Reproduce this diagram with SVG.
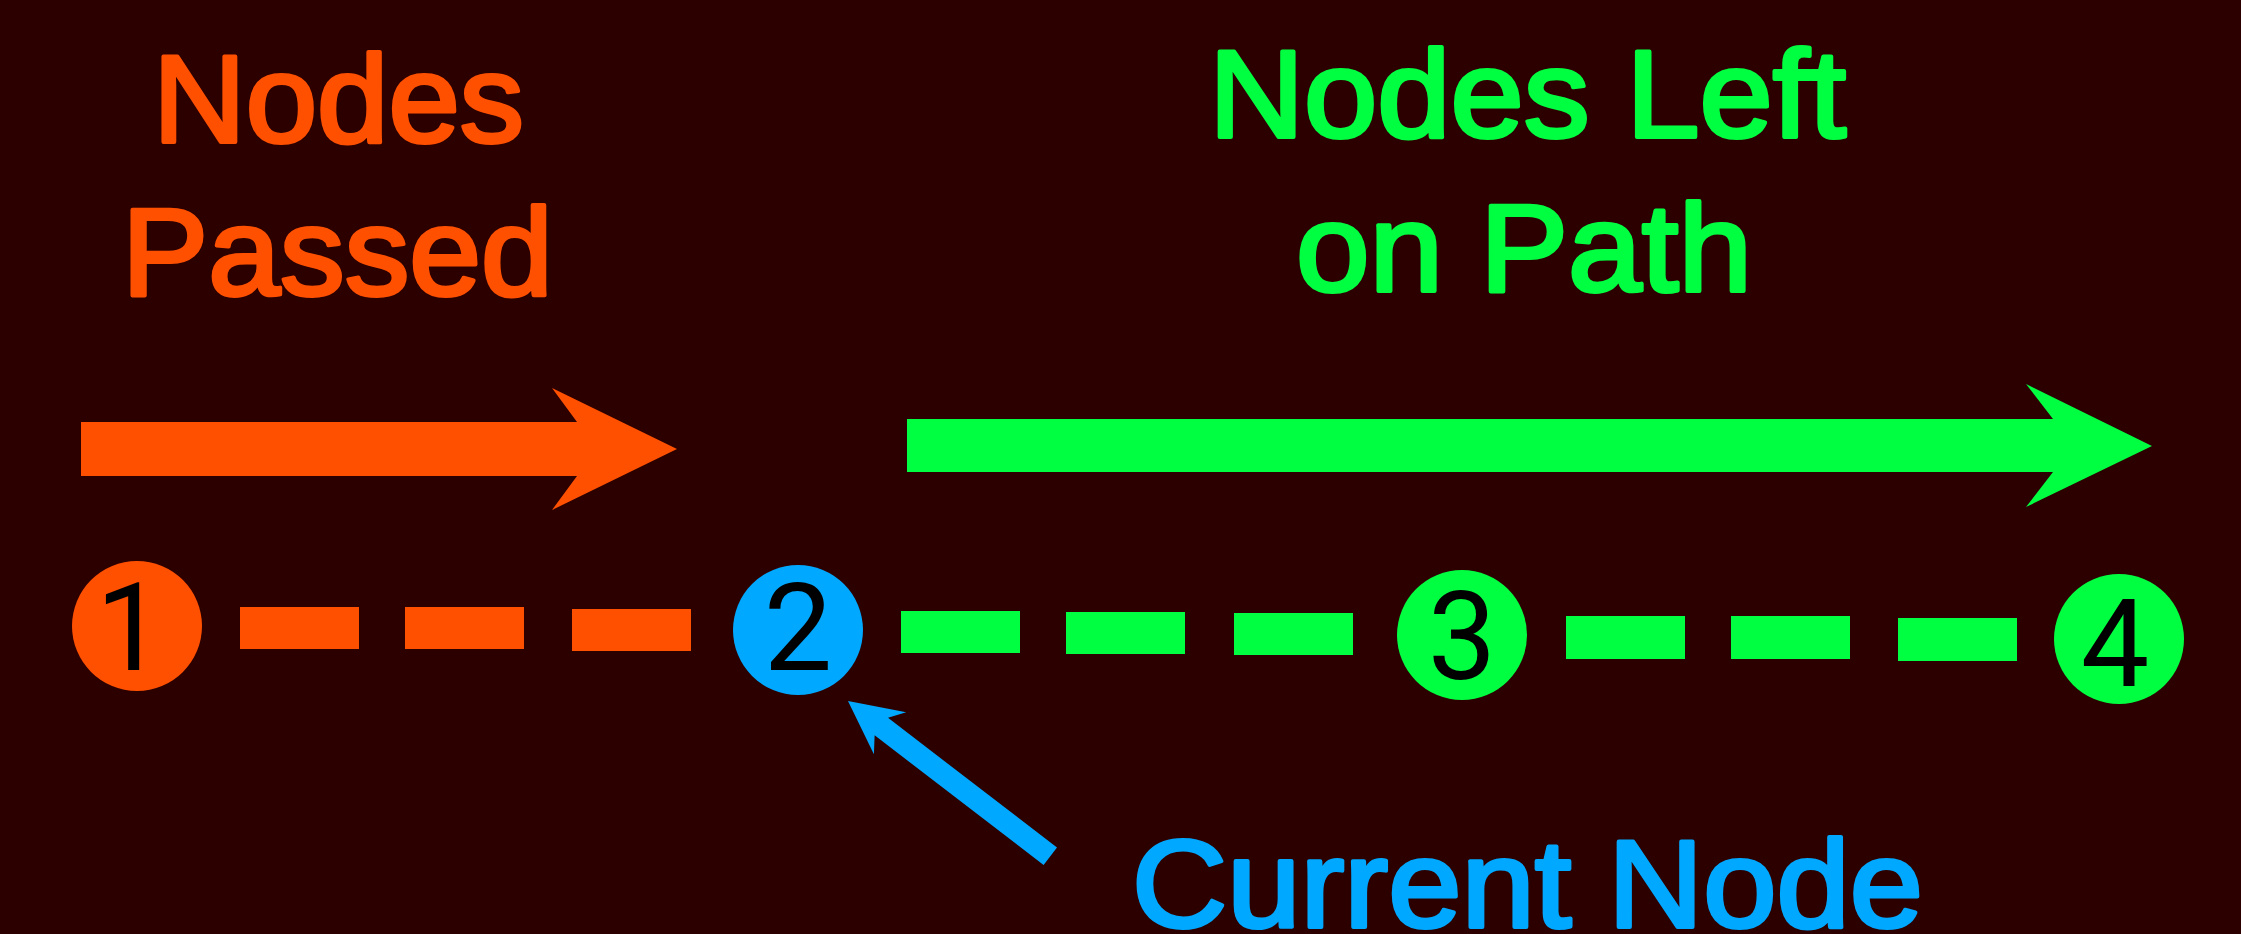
<svg xmlns="http://www.w3.org/2000/svg" width="2241" height="934" viewBox="0 0 2241 934">
<style>
.lbl{font-family:"Liberation Sans",Arial,sans-serif;font-size:124px;stroke-width:4;stroke-linejoin:round}
.or{fill:#ff5000}.gr{fill:#00ff40}.bl{fill:#00a8ff}
text.or{stroke:#ff5000}text.gr{stroke:#00ff40}text.bl{stroke:#00a8ff}
.dig{font-family:Roboto,"Liberation Sans",sans-serif;font-size:122px;fill:#000;text-anchor:middle}
</style>
<rect width="2241" height="934" fill="#2d0000"/>
<g id="label-passed">
<text class="lbl or" x="153" y="142" textLength="371" lengthAdjust="spacingAndGlyphs">Nodes</text>
<text class="lbl or" x="122" y="295" textLength="431" lengthAdjust="spacingAndGlyphs">Passed</text>
</g>
<g id="label-left">
<text class="lbl gr" x="1209" y="137" textLength="637" lengthAdjust="spacingAndGlyphs">Nodes Left</text>
<text class="lbl gr" x="1296" y="291" textLength="456" lengthAdjust="spacingAndGlyphs">on Path</text>
</g>
<g id="label-current">
<text class="lbl bl" x="1132" y="927" textLength="791" lengthAdjust="spacingAndGlyphs">Current Node</text>
</g>
<g id="connectors">
<polygon class="or" points="81,422 577,422 552,388 677,449 552,510 577,476 81,476"/>
<polygon class="gr" points="907,419 2053,419 2026,384 2152,446 2026,507 2053,472 907,472"/>
<rect class="or" x="240" y="607" width="119" height="42"/>
<rect class="or" x="405" y="607" width="119" height="42"/>
<rect class="or" x="572" y="609" width="119" height="42"/>
<rect class="gr" x="901" y="611" width="119" height="42"/>
<rect class="gr" x="1066" y="612" width="119" height="42"/>
<rect class="gr" x="1234" y="613" width="119" height="42"/>
<rect class="gr" x="1566" y="616" width="119" height="43"/>
<rect class="gr" x="1731" y="616" width="119" height="43"/>
<rect class="gr" x="1898" y="618" width="119" height="43"/>
<polygon class="bl" transform="translate(848,701) rotate(37.5)" points="0,0 53,-26.5 42,-11 255,-11 255,11 42,11 53,26.5"/>
</g>
<g id="node1">
<circle class="or" cx="137" cy="626" r="65"/>
<text class="dig" x="130" y="670">1</text>
</g>
<g id="node2">
<circle class="bl" cx="798" cy="630" r="65"/>
<text class="dig" x="798" y="670">2</text>
</g>
<g id="node3">
<circle class="gr" cx="1462" cy="635" r="65"/>
<text class="dig" x="1462" y="679">3</text>
</g>
<g id="node4">
<circle class="gr" cx="2119" cy="639" r="65"/>
<text class="dig" x="2115" y="686">4</text>
</g>
</svg>
